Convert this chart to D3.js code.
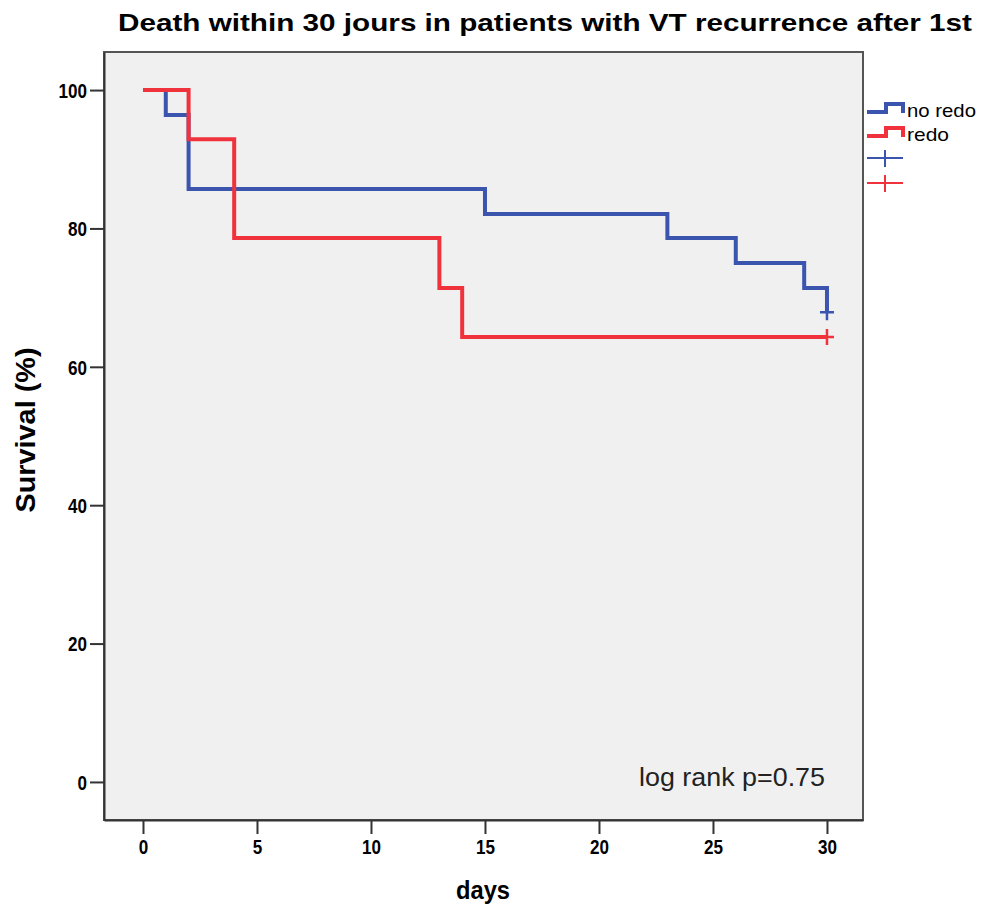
<!DOCTYPE html>
<html><head><meta charset="utf-8">
<script src="https://cdn.jsdelivr.net/npm/d3@7/dist/d3.min.js"></script>
<style>body{margin:0;background:#fff}svg{display:block}</style>
</head><body>
<svg id="c" width="981" height="909"></svg>
<script>
const xTicks = [0, 5, 10, 15, 20, 25, 30];
const yTicks = [0, 20, 40, 60, 80, 100];
const groups = ["no redo", "redo"];
const noRedoTimes = [0, 1, 2, 15, 23, 26, 29, 30];
const noRedoSurv  = [100, 96.4, 85.7, 82.1, 78.6, 75.0, 71.4, 67.9];
const redoTimes = [0, 2, 4, 13, 14, 30];
const redoSurv  = [100, 92.9, 78.6, 71.4, 64.3, 64.3];
const censorTimes = [30, 30];
const censorSurv = [67.9, 64.3];
const colors = ["#3b55ae", "#f0323c"];

const svg = d3.select("#c");
const L = 104, R = 863, T = 52, B = 820;
const x = d3.scaleLinear().domain([-1.71, 31.58]).range([L, R]);
const y = d3.scaleLinear().domain([-5.5, 105.5]).range([B, T]);
const sans = "'Liberation Sans', Arial, sans-serif";

svg.append("rect").attr("x", L).attr("y", T).attr("width", R - L).attr("height", B - T)
  .attr("fill", "#f0f0f0").attr("stroke", "#555").attr("stroke-width", 2);

// title
svg.append("text").attr("x", 545).attr("y", 31).attr("text-anchor", "middle")
  .attr("font-family", sans).attr("font-weight", "bold")
  .attr("font-size", 24).attr("textLength", 854).attr("lengthAdjust", "spacingAndGlyphs")
  .attr("fill", "#000").text("Death within 30 jours in patients with VT recurrence after 1st");

// axes
const yAxis = svg.append("g").attr("transform", `translate(${L},0)`)
  .call(d3.axisLeft(y).tickValues(yTicks).tickSize(14).tickSizeOuter(0).tickPadding(3).tickFormat(d3.format("d")));
const xAxis = svg.append("g").attr("transform", `translate(0,${B})`)
  .call(d3.axisBottom(x).tickValues(xTicks).tickSize(14).tickSizeOuter(0).tickPadding(6).tickFormat(d3.format("d")));
[yAxis, xAxis].forEach(g => {
  g.select(".domain").attr("stroke", "#333").attr("stroke-width", 2);
  g.selectAll(".tick line").attr("stroke", "#333").attr("stroke-width", 2);
  g.selectAll(".tick text").attr("font-family", sans).attr("font-weight", "bold")
    .attr("font-size", 20).attr("fill", "#000")
    .attr("textLength", function () { return this.textContent.length * 9.5; })
    .attr("lengthAdjust", "spacingAndGlyphs");
});
yAxis.selectAll(".tick text").attr("dy", "0.36em");
xAxis.selectAll(".tick text").attr("dy", "0.72em");

// axis labels
svg.append("text").attr("x", 483).attr("y", 899).attr("text-anchor", "middle")
  .attr("font-family", sans).attr("font-weight", "bold").attr("font-size", 26)
  .attr("textLength", 54).attr("lengthAdjust", "spacingAndGlyphs")
  .attr("fill", "#000").text("days");
svg.append("text").attr("transform", "translate(35,430) rotate(-90)").attr("text-anchor", "middle")
  .attr("font-family", sans).attr("font-weight", "bold").attr("font-size", 28)
  .attr("textLength", 165).attr("lengthAdjust", "spacingAndGlyphs")
  .attr("fill", "#000").text("Survival (%)");

// curves
const line = d3.line().x(d => x(d[0])).y(d => y(d[1])).curve(d3.curveStepAfter);
const series = [d3.zip(noRedoTimes, noRedoSurv), d3.zip(redoTimes, redoSurv)];
series.forEach((s, i) => {
  svg.append("path").attr("d", line(s)).attr("fill", "none")
    .attr("stroke", colors[i]).attr("stroke-width", 4).attr("stroke-linejoin", "miter");
});
// censor marks
censorTimes.forEach((t, i) => {
  const cx = x(t), cy = y(censorSurv[i]);
  svg.append("path").attr("d", `M${cx - 7},${cy}H${cx + 7}M${cx},${cy - 8}V${cy + 8}`)
    .attr("stroke", colors[i]).attr("stroke-width", 2.5).attr("fill", "none");
});

// log rank
svg.append("text").attr("x", 639).attr("y", 786)
  .attr("font-family", sans).attr("font-size", 26).attr("textLength", 186)
  .attr("lengthAdjust", "spacingAndGlyphs").attr("fill", "#222").text("log rank p=0.75");

// legend
const lg = svg.append("g");
groups.forEach((g, i) => {
  const yy = 112 + i * 24;
  lg.append("path").attr("d", `M867,${yy}H886V${yy - 8}H903V${yy + 1}`)
    .attr("fill", "none").attr("stroke", colors[i]).attr("stroke-width", 4);
  lg.append("text").attr("x", 907).attr("y", yy + 5)
    .attr("font-family", sans).attr("font-size", 19)
    .attr("textLength", i === 0 ? 69 : 42).attr("lengthAdjust", "spacingAndGlyphs")
    .attr("fill", "#000").text(g);
});
groups.forEach((g, i) => {
  const yy = 158 + i * 25;
  lg.append("path").attr("d", `M867,${yy}H903M885,${yy - 8}V${yy + 9}`)
    .attr("fill", "none").attr("stroke", colors[i]).attr("stroke-width", 2);
});
</script>
</body></html>
